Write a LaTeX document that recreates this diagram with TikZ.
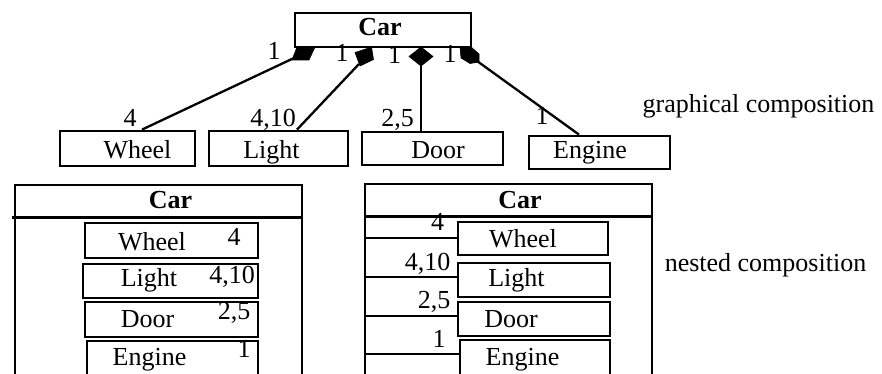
\documentclass[tikz,border=0pt]{standalone}
\usepackage{fontspec}
\setmainfont{Liberation Serif}
\begin{document}
\begin{tikzpicture}[x=1pt,y=-1pt,
  box/.style={draw, line width=2.8pt, rectangle, inner sep=0pt},
  boxline/.style={line width=2.8pt},
  conn/.style={line width=2.3pt},
  lbl/.style={font=\fontsize{26}{30}\selectfont, inner sep=0pt, anchor=base},
  blbl/.style={font=\fontsize{26}{30}\selectfont\bfseries, inner sep=0pt, anchor=base},
  dmd/.style={fill=black, draw=black, line width=0.6pt, line join=miter}]
\useasboundingbox (0,0) rectangle (882,374);
\clip (0,0) rectangle (882,374);

% ---------- graphical composition ----------
\node[box, minimum width=176, minimum height=34, fill=white] (car) at (383,30) {};
\node[blbl] (cart) at (380,36) {Car};

\node[box, minimum width=135, minimum height=35] (wheelT) at (127.5,148.5) {};
\node[box, minimum width=139, minimum height=35] (lightT) at (278.5,148.5) {};
\node[box, minimum width=141, minimum height=33] (doorT) at (432.5,148.5) {};
\node[box, minimum width=141, minimum height=33] (engineT) at (599.5,152.5) {};
\node[lbl] (wheelTt) at (137.5,158) {Wheel};
\node[lbl] (lightTt) at (271.5,158) {Light};
\node[lbl] (doorTt) at (438,158) {Door};
\node[lbl] (engineTt) at (590,159) {Engine};

% diamonds
\fill[dmd] (297,47) -- (315,47) -- (309,60) -- (292,60) -- cycle;
\fill[dmd] (355,52.5) -- (371.5,47) -- (373.5,59.5) -- (360,66) -- cycle;
\fill[dmd] (421,47) -- (433,56.5) -- (421,66) -- (409,56.5) -- cycle;
\fill[dmd] (460,47) -- (471,47) -- (479,54) -- (479,62) -- (470,63.5) -- (461,58) -- cycle;
\coordinate (d1) at (294,58);
\coordinate (d2) at (359,64);
\coordinate (d3) at (421,65);
\coordinate (d4) at (477,61);

\draw[conn] (d1) -- ([xshift=14.5pt]wheelT.north);
\draw[conn] (d2) -- ([xshift=18.5pt]lightT.north);
\draw[conn] (d3) -- ([xshift=-11.5pt]doorT.north);
\draw[conn] (d4) -- ([xshift=-20.5pt]engineT.north);

\node[lbl] (m1a) at (274,60) {1};
\node[lbl] (m2a) at (342,62) {1};
\node[lbl] (m3a) at (394.5,64) {1};
\node[lbl] (m4a) at (450,63) {1};
\node[lbl] (m1b) at (130,127) {4};
\node[lbl] (m2b) at (273,127) {4,10};
\node[lbl] (m3b) at (397.5,127) {2,5};
\node[lbl] (m4b) at (542,125) {1};

\node[lbl] (gc) at (758.5,112.5) {graphical composition};

% ---------- nested composition (left) ----------
\node[box, minimum width=287, minimum height=215] (carL) at (158.5,292.5) {};
\draw[boxline] ([xshift=-2pt,yshift=-34pt]carL.north west) -- ([yshift=-34pt]carL.north east);
\node[blbl] (carLt) at (170.5,208) {Car};

\node[box, minimum width=173, minimum height=35] (wL) at (171.5,240.5) {};
\node[box, minimum width=175, minimum height=34] (lL) at (170.5,281) {};
\node[box, minimum width=173, minimum height=35] (dL) at (171.5,319.5) {};
\node[box, minimum width=171, minimum height=40] (eL) at (172.5,361) {};
\node[lbl] (wLt) at (152,250) {Wheel};
\node[lbl] (wLm) at (234,245) {4};
\node[lbl] (lLt) at (149,286) {Light};
\node[lbl] (lLm) at (232,283) {4,10};
\node[lbl] (dLt) at (147.5,327) {Door};
\node[lbl] (dLm) at (234,319) {2,5};
\node[lbl] (eLt) at (149.5,365) {Engine};
\node[lbl] (eLm) at (244,357) {1};

% ---------- nested composition (right) ----------
\node[box, minimum width=287, minimum height=216] (carR) at (508.5,292) {};
\draw[boxline] ([yshift=-34pt]carR.north west) -- ([yshift=-34pt]carR.north east);
\node[blbl] (carRt) at (520,208) {Car};

\node[box, minimum width=150, minimum height=33] (wR) at (533,238.5) {};
\node[box, minimum width=152, minimum height=34] (lR) at (534,280) {};
\node[box, minimum width=152, minimum height=34] (dR) at (534,319) {};
\node[box, minimum width=150, minimum height=40] (eR) at (535,360) {};
\node[lbl] (wRt) at (523,247) {Wheel};
\node[lbl] (lRt) at (516.5,286) {Light};
\node[lbl] (dRt) at (511,327) {Door};
\node[lbl] (eRt) at (522.5,365) {Engine};

\coordinate (wRw) at ([yshift=0.5pt]wR.west);
\coordinate (lRw) at ([yshift=3pt]lR.west);
\coordinate (dRw) at ([yshift=3pt]dR.west);
\coordinate (eRw) at ([yshift=6pt]eR.west);
\draw[conn] (carR.west |- wRw) -- (wRw);
\draw[conn] (carR.west |- lRw) -- (lRw);
\draw[conn] (carR.west |- dRw) -- (dRw);
\draw[conn] (carR.west |- eRw) -- (eRw);

\node[lbl] (wRm) at (437.5,230) {4};
\node[lbl] (lRm) at (427.5,270) {4,10};
\node[lbl] (dRm) at (434,308) {2,5};
\node[lbl] (eRm) at (439,347) {1};

\node[lbl] (nc) at (765.5,271.5) {nested composition};
\end{tikzpicture}
\end{document}
